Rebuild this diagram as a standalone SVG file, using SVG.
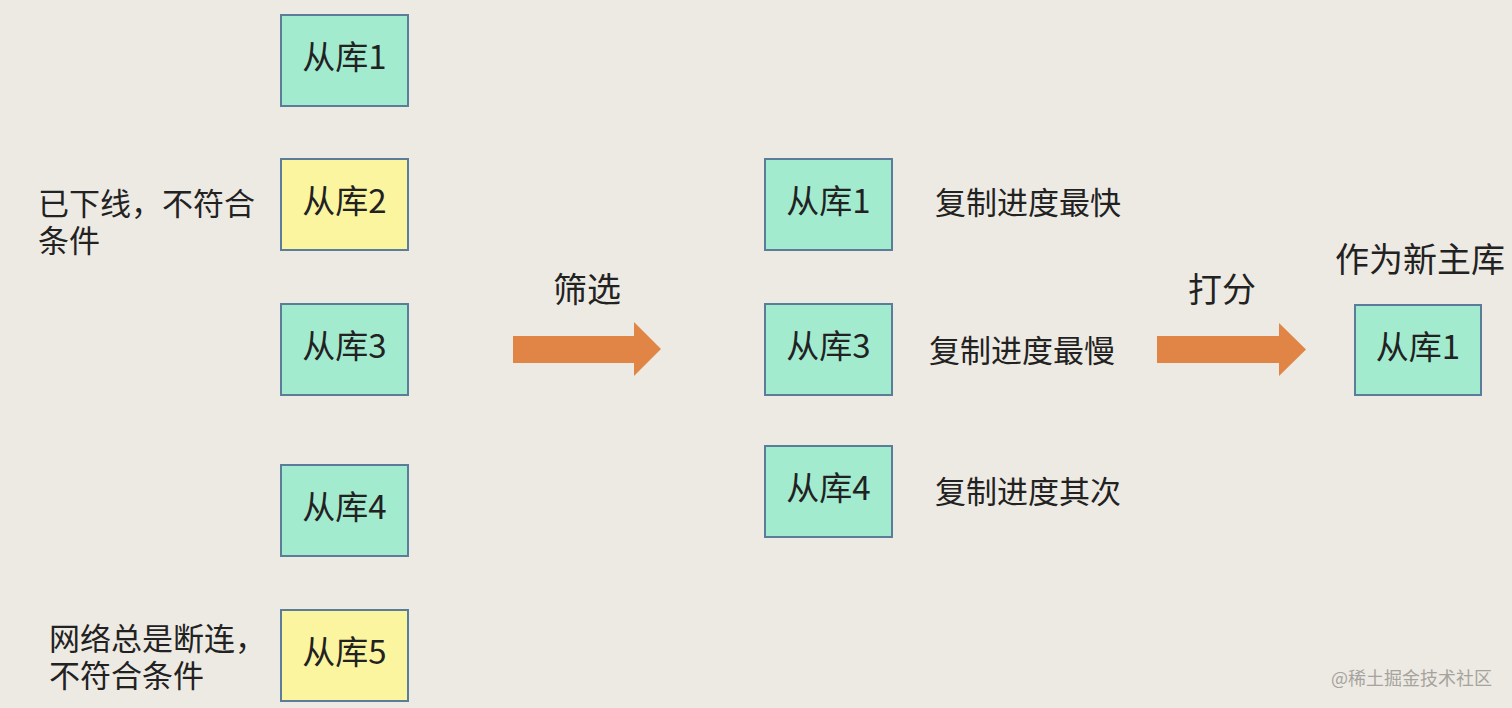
<svg xmlns="http://www.w3.org/2000/svg" width="1512" height="708" viewBox="0 0 1512 708">
<style>
.bg{fill:#EDEAE3}
.g{fill:#A2EBCF;stroke:#5B7D99;stroke-width:2}
.y{fill:#FCF59F;stroke:#5B7D99;stroke-width:2}
.bl{font-family:"Noto Sans CJK SC","Noto Sans",sans-serif;font-size:33px;fill:#222;text-anchor:middle}
.t{font-family:"Noto Sans CJK SC","Noto Sans",sans-serif;font-size:31px;fill:#222}
.h{font-family:"Noto Sans CJK SC","Noto Sans",sans-serif;font-size:34px;fill:#222}
.arr{fill:#E08545}
.wm{font-family:"Noto Sans CJK SC","Noto Sans",sans-serif;font-size:18px;fill:#A6A39E}
</style>
<rect class="bg" x="0" y="0" width="1512" height="708"/>
<g id="connectors">
<polygon class="arr" points="513,336 634,336 634,322 661,349 634,376 634,363 513,363"/>
<polygon class="arr" points="1157,336 1279,336 1279,323 1306,349.5 1279,376 1279,363 1157,363"/>
<text class="h" x="553" y="302">筛选</text>
<text class="h" x="1188" y="302">打分</text>
</g>
<g id="s1"><rect class="g" x="281" y="15" width="127" height="91"/><text class="bl" x="344.5" y="69">从库1</text></g>
<g id="s2"><rect class="y" x="281" y="159" width="127" height="91"/><text class="bl" x="344.5" y="213">从库2</text></g>
<g id="s3"><rect class="g" x="281" y="304" width="127" height="91"/><text class="bl" x="344.5" y="358">从库3</text></g>
<g id="s4"><rect class="g" x="281" y="465" width="127" height="91"/><text class="bl" x="344.5" y="519">从库4</text></g>
<g id="s5"><rect class="y" x="281" y="610" width="127" height="91"/><text class="bl" x="344.5" y="664">从库5</text></g>
<g id="note2"><text class="t" x="38" y="215"><tspan x="38" y="215">已下线，不符合</tspan><tspan x="38" y="252">条件</tspan></text></g>
<g id="note5"><text class="t" x="49" y="650"><tspan x="49" y="650">网络总是断连，</tspan><tspan x="49" y="687">不符合条件</tspan></text></g>
<g id="m1"><rect class="g" x="765" y="159" width="127" height="91"/><text class="bl" x="828.5" y="213">从库1</text></g>
<g id="m3"><rect class="g" x="765" y="304" width="127" height="91"/><text class="bl" x="828.5" y="358">从库3</text></g>
<g id="m4"><rect class="g" x="765" y="446" width="127" height="91"/><text class="bl" x="828.5" y="500">从库4</text></g>
<g id="lab1"><text class="t" x="935" y="214">复制进度最快</text></g>
<g id="lab3"><text class="t" x="929" y="362">复制进度最慢</text></g>
<g id="lab4"><text class="t" x="935" y="503">复制进度其次</text></g>
<g id="newmaster"><text class="h" x="1335" y="272">作为新主库</text><rect class="g" x="1355" y="305" width="126" height="90"/><text class="bl" x="1418" y="359">从库1</text></g>
<text class="wm" x="1331" y="685">@稀土掘金技术社区</text>
</svg>
